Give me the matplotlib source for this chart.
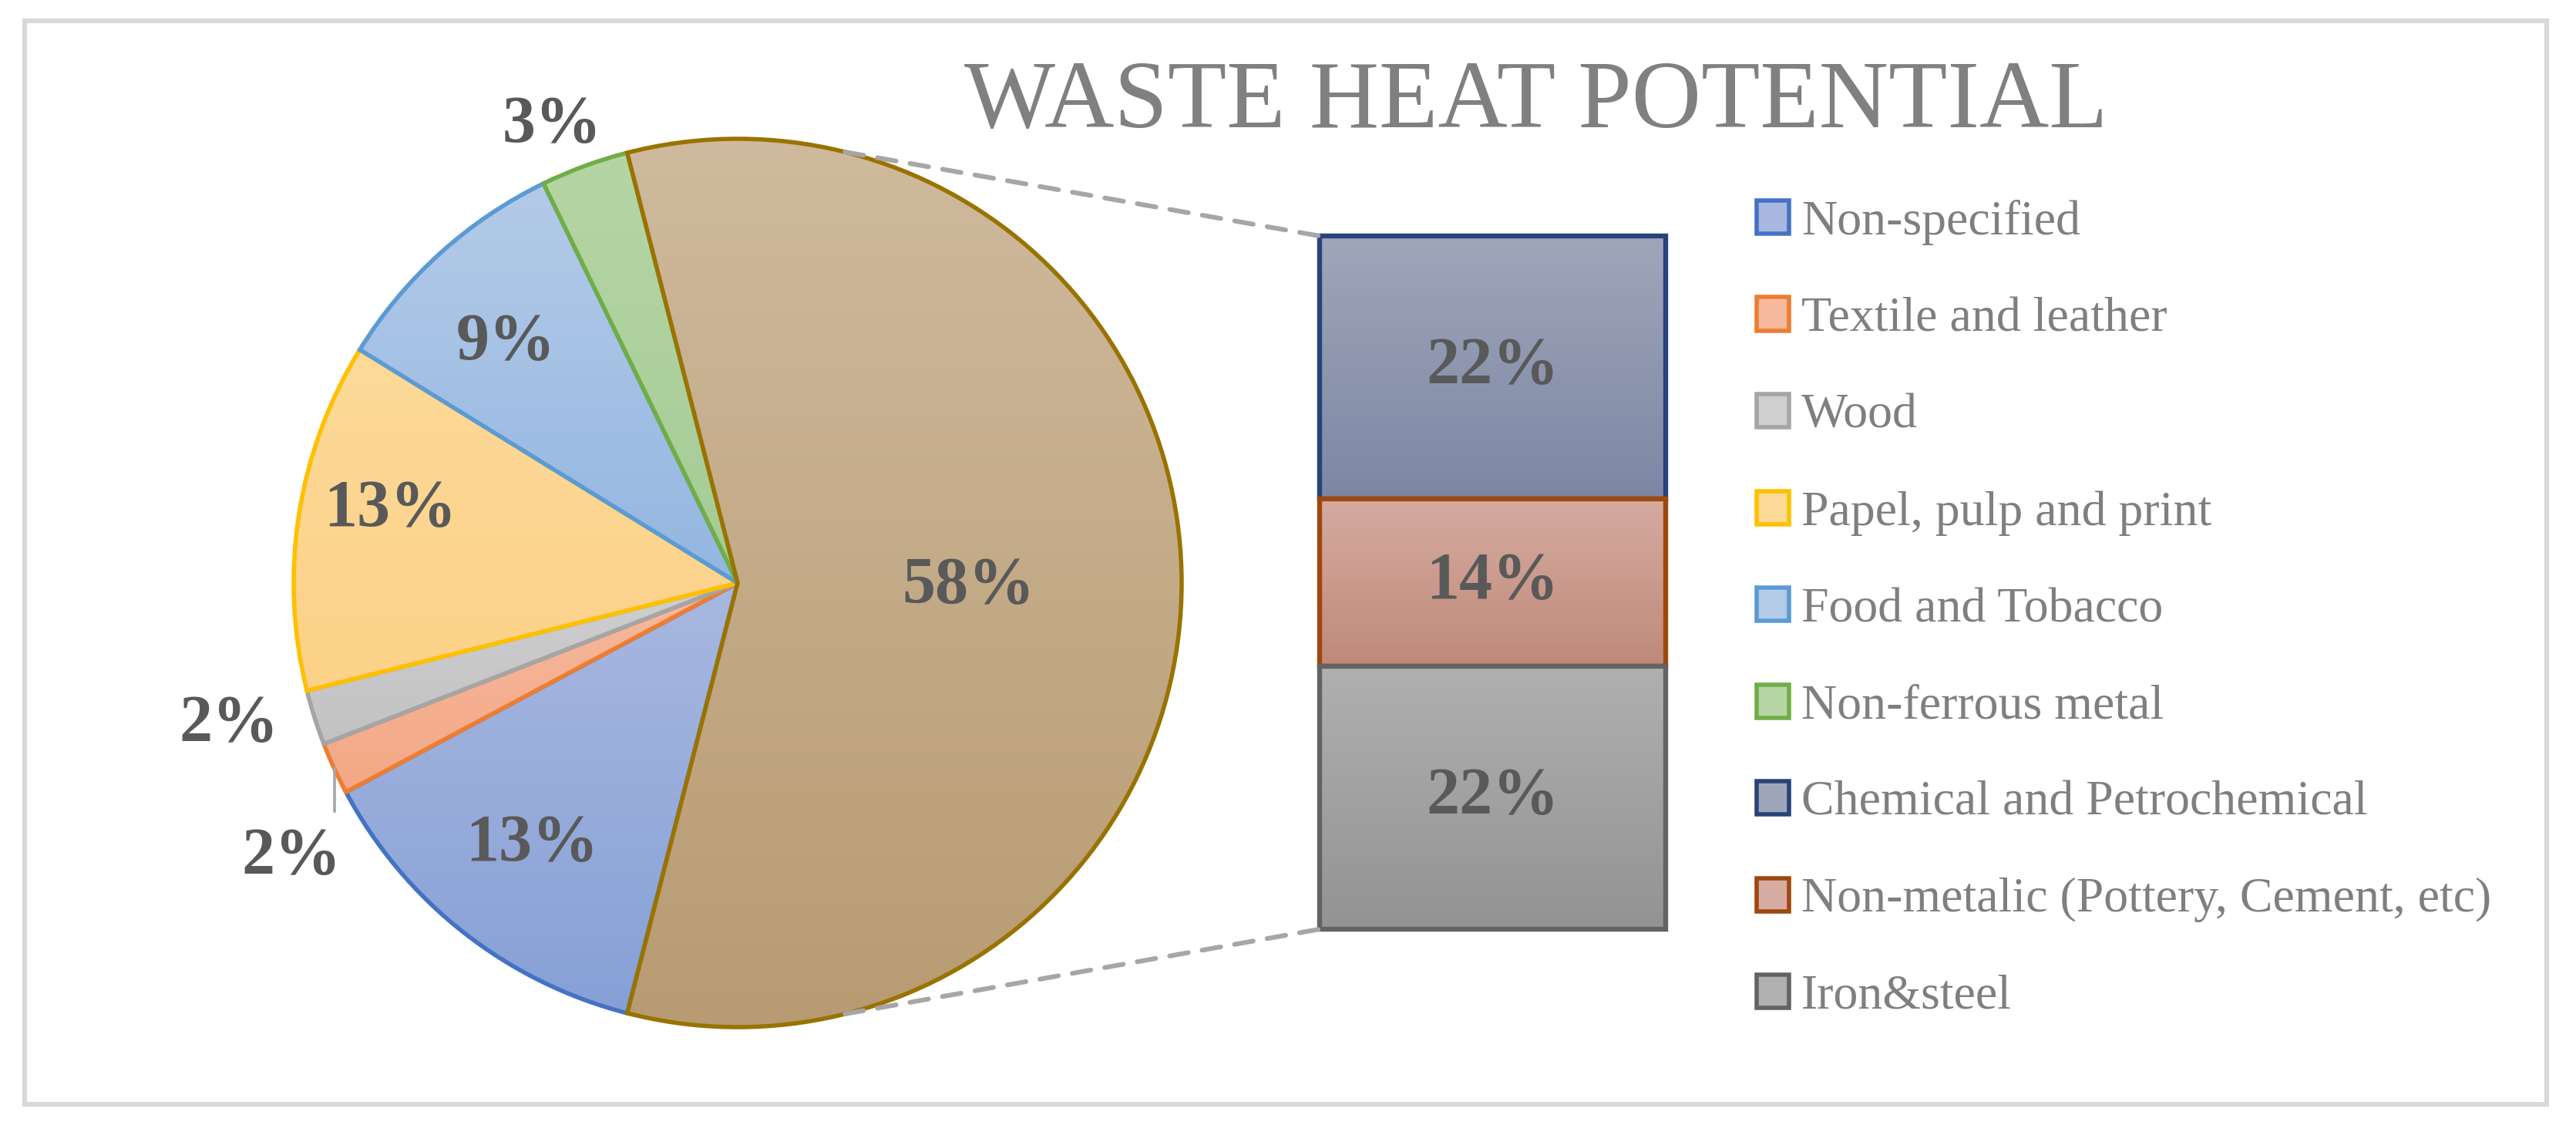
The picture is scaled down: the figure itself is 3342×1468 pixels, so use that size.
import numpy as np
import matplotlib
matplotlib.use("Agg")
import matplotlib.pyplot as plt
from matplotlib.patches import Rectangle, ConnectionPatch
from matplotlib.colors import LinearSegmentedColormap

# ---------------- data ----------------
title = "WASTE HEAT POTENTIAL"
pie_labels = ["Non-specified", "Textile and leather", "Wood", "Papel, pulp and print",
              "Food and Tobacco", "Non-ferrous metal", "Other"]
pie_values = [13.2, 1.9, 2.0, 12.7, 9.0, 3.2, 58.0]
bar_labels = ["Chemical and Petrochemical", "Non-metalic (Pottery, Cement, etc)", "Iron&steel"]
bar_values = [22, 14, 22]

# ---------------- styles ----------------
pie_edge = ["#4472C4", "#ED7D31", "#A5A5A5", "#FFC000", "#5B9BD5", "#70AD47", "#997300"]
pie_top = ["#A8B8E0", "#F6B99E", "#CFCFCF", "#FDDA98", "#B4CBE8", "#B5D6A4", "#CFBA9D"]
pie_bot = ["#86A0D6", "#F3A886", "#C2C2C2", "#FCD189", "#93B6E1", "#A6CB96", "#B89B72"]
bar_edge = ["#264478", "#9E480E", "#636363"]
bar_top = ["#A0A6BA", "#D6ABA1", "#B0B0B0"]
bar_bot = ["#7D87A4", "#BF8979", "#939393"]
label_color = "#595959"
legend_color = "#7F7F7F"

W, H = 3342, 1468
DPI = 200
fig = plt.figure(figsize=(W / DPI, H / DPI), dpi=DPI)
fig.patch.set_facecolor("white")

def px_box(x0, y0, x1, y1):
    return [x0 / W, 1 - y1 / H, (x1 - x0) / W, (y1 - y0) / H]

def grad_fill(ax, patch, c_top, c_bot, zorder):
    ext = patch.get_path().get_extents(patch.get_patch_transform())
    cmap = LinearSegmentedColormap.from_list("g", [c_top, c_bot])
    img = np.linspace(0, 1, 256)[:, None]
    im = ax.imshow(img, cmap=cmap, extent=(ext.x0, ext.x1, ext.y0, ext.y1),
                   aspect="auto", origin="upper", zorder=zorder,
                   interpolation="bilinear")
    im.set_clip_path(patch)
    return im

# ---------------- pie ----------------
cx, cy, R = 957, 756, 576
ax_pie = fig.add_axes(px_box(cx - R, cy - R, cx + R, cy + R))
wedges, _ = ax_pie.pie(pie_values, startangle=-pie_values[-1] * 1.8, counterclock=False,
                       radius=1.0, wedgeprops=dict(linewidth=2.0))
for k, w in enumerate(wedges):
    w.set_facecolor("none")
    w.set_edgecolor(pie_edge[k])
    w.set_zorder(3 + 2 * k)
    grad_fill(ax_pie, w, pie_top[k], pie_bot[k], 2 + 2 * k)
ax_pie.set_xlim(-1, 1)
ax_pie.set_ylim(-1, 1)
ax_pie.set_aspect("equal")
ax_pie.axis("off")

lab_r = [0.75, 1.18, 1.19, 0.80, 0.75, 1.11, 0.52]
lab_dang = [0, 7, -2, -3, 2, 2, -1]
for k, w in enumerate(wedges):
    mid = np.deg2rad((w.theta1 + w.theta2) / 2 + lab_dang[k])
    x, y = lab_r[k] * np.cos(mid), lab_r[k] * np.sin(mid)
    ax_pie.text(x, y, f"{round(pie_values[k])}%", ha="center", va="center",
                fontsize=31, fontweight="bold", family="Liberation Serif",
                color=label_color, zorder=30, clip_on=False)
    if k == 1:
        m0 = np.deg2rad((w.theta1 + w.theta2) / 2)
        ex, ey = np.cos(m0), np.sin(m0)
        ax_pie.plot([ex, ex], [ey, y + 0.105], color="#A6A6A6", lw=1.3,
                    zorder=29, clip_on=False)

# ---------------- bar ----------------
ax_bar = fig.add_axes(px_box(1712, 306, 2161, 1205))
total = sum(bar_values)
bottoms = total - np.cumsum(bar_values)
bars = ax_bar.bar(0, bar_values, bottom=bottoms, width=1.0, linewidth=2.3)
for k, b in enumerate(bars):
    b.set_facecolor("none")
    b.set_edgecolor(bar_edge[k])
    b.set_zorder(3 + 2 * k)
    b.set_clip_on(False)
    grad_fill(ax_bar, b, bar_top[k], bar_bot[k], 2 + 2 * k)
    ax_bar.text(0, bottoms[k] + bar_values[k] / 2, f"{bar_values[k]}%", ha="center",
                va="center", fontsize=31, fontweight="bold", family="Liberation Serif",
                color=label_color, zorder=30)
ax_bar.set_xlim(-0.5, 0.5)
ax_bar.set_ylim(0, total)
ax_bar.axis("off")

# ---------------- connector lines ----------------
conn_ang = np.deg2rad(76)
for sgn, yb in [(1, total), (-1, 0)]:
    cp = ConnectionPatch(xyA=(np.cos(conn_ang), sgn * np.sin(conn_ang)), coordsA=ax_pie.transData,
                         xyB=(-0.5, yb), coordsB=ax_bar.transData,
                         color="#A6A6A6", lw=2.2, linestyle=(0, (4, 3)), zorder=1)
    fig.add_artist(cp)

# ---------------- title ----------------
fig.text(1993 / W, 1 - 165 / H, title, ha="center", va="baseline", fontsize=45,
         family="Liberation Serif", color="#808080")

# ---------------- legend ----------------
handles = []
for k in range(len(pie_labels) - 1):
    handles.append(Rectangle((0, 0), 1, 1, facecolor=pie_top[k], edgecolor=pie_edge[k], lw=2.0))
for k in range(len(bar_labels)):
    handles.append(Rectangle((0, 0), 1, 1, facecolor=bar_top[k], edgecolor=bar_edge[k], lw=2.0))
leg_labels = pie_labels[:-1] + bar_labels
leg = fig.legend(handles, leg_labels, loc="upper left", bbox_to_anchor=(2279 / W, 1 - 259 / H),
                 frameon=False, borderpad=0, borderaxespad=0, handlelength=0.66,
                 handleheight=0.66, handletextpad=0.25, labelspacing=1.055,
                 prop=dict(family="Liberation Serif", size=23))
for t in leg.get_texts():
    t.set_color(legend_color)

# ---------------- outer border ----------------
fig.add_artist(Rectangle((32 / W, 1 - 1432 / H), (3304 - 32) / W, (1432 - 27) / H,
                         transform=fig.transFigure, fill=False, edgecolor="#D9D9D9",
                         lw=2.2, zorder=0))

fig.savefig("out.png", dpi=DPI, facecolor="white")
